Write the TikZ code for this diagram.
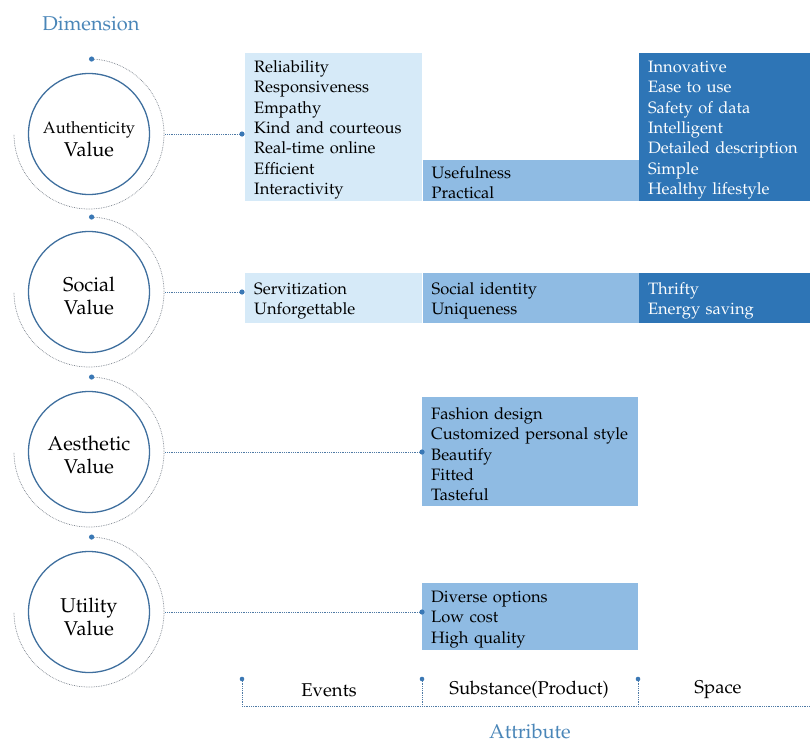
\documentclass[tikz,border=0pt]{standalone}
\usepackage[T1]{fontenc}
\usepackage{mathpazo}
\usepackage{xcolor}
\usetikzlibrary{positioning,calc}

\definecolor{ringblue}{HTML}{3F6F9E}
\definecolor{dotblue}{HTML}{3A78B5}
\definecolor{lightcell}{HTML}{D6EAF8}
\definecolor{midcell}{HTML}{8FBBE3}
\definecolor{darkcell}{HTML}{2E75B6}
\definecolor{titleblue}{HTML}{4A86B8}

\tikzset{
  valcirc/.style={circle, draw=ringblue, line width=1.3pt, minimum size=121pt, inner sep=0pt},
  valtext/.style={align=center, font=\fontsize{20}{23}\selectfont},
  ring/.style={densely dotted, draw=gray!85!dotblue, line width=0.7pt},
  conn/.style={densely dotted, draw=dotblue!70!gray, line width=0.8pt},
  cell/.style={inner xsep=9pt, inner ysep=2pt, align=left, font=\fontsize{16.5}{20.4}\selectfont,
    execute at begin node={\rule{0pt}{17pt}}},
  lightcellbox/.style={cell, fill=lightcell, text=black},
  midcellbox/.style={cell, fill=midcell, text=black},
  darkcellbox/.style={cell, fill=darkcell, text=white!92!lightcell},
  axislabel/.style={font=\fontsize{18.5}{22}\selectfont},
  title/.style={text=titleblue, font=\fontsize{20}{22}\selectfont},
}

\begin{document}
\begin{tikzpicture}[x=1pt,y=1pt]
    \useasboundingbox (0,0) rectangle (810,-744);

    % Dimension circles
    \node[title] (dimlabel) at (91,-24) {Dimension};
    \node[valcirc] (auth) at (89,-134) {};
    \node[valcirc] (soc) at (89,-292) {};
    \node[valcirc] (aes) at (89,-452) {};
    \node[valcirc] (util) at (89,-612) {};
    \node[valtext] (authtext) at ([yshift=-5pt]auth.center) {{\fontsize{16.5}{22}\selectfont Authenticity}\\Value};
    \node[valtext] (soctext) at ([yshift=-4pt]soc.center) {Social\\Value};
    \node[valtext] (aestext) at ([yshift=-3pt]aes.center) {Aesthetic\\Value};
    \node[valtext] (utiltext) at ([yshift=-5pt]util.center) {Utility\\Value};

    % Dotted rings with start dots
    \foreach \c in {auth,soc,aes,util} {
        \draw[ring] ($(\c.center)+(90:75pt)$) arc[start angle=90, end angle=-180, radius=75pt];
        \fill[dotblue] ($(\c.center)+(88:75pt)$) circle (2.6pt);
    }

    % Authenticity row
    \node[lightcellbox, anchor=north west, text width=159pt, minimum height=148pt] (a1) at (245,-53)
        {Reliability\\Responsiveness\\Empathy\\Kind and courteous\\Real-time online\\Efficient\\Interactivity};
    \node[midcellbox, anchor=south west, text width=198pt, minimum height=41pt] (a2) at (a1.south east)
        {Usefulness\\Practical};
    \node[darkcellbox, anchor=south west, text width=154pt, minimum height=148pt] (a3) at (a2.south east)
        {Innovative\\Ease to use\\Safety of data\\Intelligent\\Detailed description\\Simple\\Healthy lifestyle};

    % Social row
    \node[lightcellbox, anchor=north west, text width=159pt, minimum height=50pt] (s1) at (245,-273)
        {Servitization\\Unforgettable};
    \node[midcellbox, anchor=north west, text width=198pt, minimum height=50pt] (s2) at (s1.north east)
        {Social identity\\Uniqueness};
    \node[darkcellbox, anchor=north west, text width=154pt, minimum height=50pt] (s3) at (s2.north east)
        {Thrifty\\Energy saving};

    % Aesthetic and utility rows
    \node[midcellbox, anchor=north west, text width=198pt, minimum height=109pt] (e1) at (422,-397)
        {Fashion design\\Customized personal style\\Beautify\\Fitted\\Tasteful};
    \node[midcellbox, anchor=north west, text width=198pt, minimum height=62pt] (u1) at (422,-583)
        {Diverse options\\Low cost\\High quality};

    % Connectors
    \coordinate (aDot) at ([xshift=-3pt]a1.west |- auth.east);
    \coordinate (sDot) at ([xshift=-3pt]s1.west |- soc.east);
    \coordinate (eDot) at (e1.west |- aes.east);
    \coordinate (uDot) at (u1.west |- util.east);
    \foreach \c/\d in {auth/aDot,soc/sDot,aes/eDot,util/uDot} {
        \draw[conn] ([xshift=15pt]\c.east) -- (\d);
        \fill[dotblue] (\d) circle (2.6pt);
    }

    % Attribute axis
    \coordinate (ev) at (242,-679);
    \coordinate (sub) at (422,-679);
    \coordinate (sp) at (638,-679);
    \coordinate (axend) at (810,-706);
    \foreach \p in {ev,sub,sp} {
        \fill[dotblue] (\p) circle (2.3pt);
        \draw[conn] (\p) -- ($(\p)+(0,-27)$);
    }
    \draw[conn] ($(ev)+(0,-27)$) -- (axend);
    \node[axislabel] (evlabel) at (329,-690) {Events};
    \node[axislabel] (sublabel) at (529,-690) {Substance(Product)};
    \node[axislabel] (splabel) at (718,-690) {Space};
    \node[title] (attlabel) at (530,-731) {Attribute};

\end{tikzpicture}
\end{document}
